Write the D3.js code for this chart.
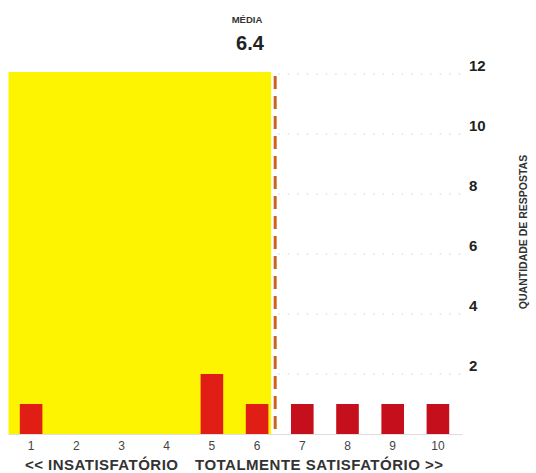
<!DOCTYPE html>
<html>
<head>
<meta charset="utf-8">
<script src="https://cdn.jsdelivr.net/npm/d3@7"></script>
<style>
  body { margin: 0; background: #fff; }
  text { font-family: "Liberation Sans", Arial, sans-serif; }
</style>
</head>
<body>
<div id="container"></div>
<script>
let w = 536;
let h = 473;

// data
let notas = ["1", "2", "3", "4", "5", "6", "7", "8", "9", "10"];
let respostas = [1, 0, 0, 0, 2, 1, 1, 1, 1, 1];
let yTicks = [2, 4, 6, 8, 10, 12];
let media = 6.4;

let viz = d3.select("#container")
  .append("svg")
    .attr("width", w)
    .attr("height", h)
    .style("background-color", "#ffffff");

// scales
let xScale = d3.scaleBand().domain(notas).range([8.5, 460.5])
  .paddingInner(0.5).paddingOuter(0.25);
// linear version of the same x axis for the mean line
let xLinear = d3.scaleLinear()
  .domain([1, 10])
  .range([xScale("1") + xScale.bandwidth() / 2, xScale("10") + xScale.bandwidth() / 2]);
let yScale = d3.scaleLinear().domain([0, 12]).range([434, 74]);

let xm = xLinear(media);

// yellow area up to the mean
viz.append("rect")
  .attr("x", xScale.range()[0])
  .attr("y", yScale(12) - 2)
  .attr("width", xm - 4 - xScale.range()[0])
  .attr("height", yScale(0) - yScale(12) + 2)
  .attr("fill", "#fcf400");

// faint dotted gridlines on the white side
viz.append("g").selectAll("line")
  .data(yTicks)
  .enter()
  .append("line")
    .attr("x1", xm + 3)
    .attr("x2", xScale.range()[1])
    .attr("y1", d => yScale(d))
    .attr("y2", d => yScale(d))
    .attr("stroke", "#d0d0d0")
    .attr("stroke-width", 1)
    .attr("stroke-dasharray", "1.5,8");

// baseline
viz.append("line")
  .attr("x1", xScale.range()[0])
  .attr("x2", xScale.range()[1] + 2)
  .attr("y1", yScale(0) + 0.5)
  .attr("y2", yScale(0) + 0.5)
  .attr("stroke", "#dddddd");

// bars
viz.append("g").selectAll("rect")
  .data(respostas)
  .enter()
  .append("rect")
    .attr("x", (d, i) => xScale(notas[i]))
    .attr("y", d => yScale(d))
    .attr("width", xScale.bandwidth())
    .attr("height", d => yScale(0) - yScale(d))
    .attr("fill", (d, i) => (+notas[i] <= media ? "#e01e16" : "#c50f1c"));

// dashed mean line
viz.append("line")
  .attr("x1", xm)
  .attr("x2", xm)
  .attr("y1", yScale(12) + 2)
  .attr("y2", yScale(0))
  .attr("stroke", "#c8641e")
  .attr("stroke-width", 3)
  .attr("stroke-dasharray", "13,7");

// mean label
viz.append("text")
  .attr("x", 247)
  .attr("y", 23)
  .attr("text-anchor", "middle")
  .attr("font-size", 9.5)
  .attr("font-weight", "bold")
  .attr("fill", "#333")
  .text("MÉDIA");
viz.append("text")
  .attr("x", 250)
  .attr("y", 50)
  .attr("text-anchor", "middle")
  .attr("font-size", 20)
  .attr("font-weight", "bold")
  .attr("fill", "#222")
  .text(media.toFixed(1));

// y axis on the right, labels only
let yAxis = d3.axisRight(yScale).tickValues(yTicks).tickSize(0).tickPadding(0);
let yAxisGroup = viz.append("g").attr("class", "yaxis")
  .attr("transform", "translate(469,-8)")
  .call(yAxis);
yAxisGroup.select(".domain").remove();
yAxisGroup.selectAll("text")
  .attr("font-family", "Liberation Sans, Arial, sans-serif")
  .attr("font-size", 15)
  .attr("font-weight", "bold")
  .attr("fill", "#222");

viz.append("text")
  .attr("transform", "translate(527," + 232 + ") rotate(-90)")
  .attr("text-anchor", "middle")
  .attr("font-size", 10.5)
  .attr("font-weight", "bold")
  .attr("fill", "#333")
  .text("QUANTIDADE DE RESPOSTAS");

// x axis, labels only
let xAxis = d3.axisBottom(xScale).tickSize(0).tickPadding(0);
let xAxisGroup = viz.append("g").attr("class", "xaxis")
  .attr("transform", "translate(0,441)")
  .call(xAxis);
xAxisGroup.select(".domain").remove();
xAxisGroup.selectAll("text")
  .attr("font-family", "Liberation Sans, Arial, sans-serif")
  .attr("font-size", 12)
  .attr("fill", "#444");

// bottom caption
viz.append("text")
  .attr("x", 25)
  .attr("y", 470)
  .attr("font-size", 15)
  .attr("font-weight", "bold")
  .attr("fill", "#333")
  .attr("textLength", 153)
  .text("<< INSATISFATÓRIO");
viz.append("text")
  .attr("x", 195)
  .attr("y", 470)
  .attr("font-size", 15)
  .attr("font-weight", "bold")
  .attr("fill", "#333")
  .attr("textLength", 248)
  .text("TOTALMENTE SATISFATÓRIO >>");
</script>
</body>
</html>
